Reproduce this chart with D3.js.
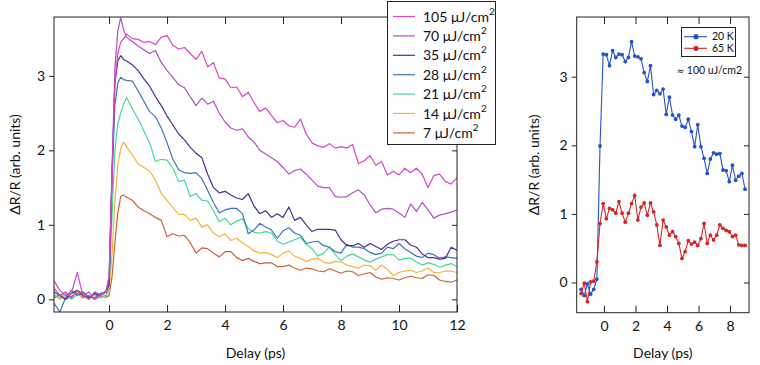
<!DOCTYPE html>
<html><head><meta charset="utf-8">
<script src="https://cdn.jsdelivr.net/npm/d3@7"></script>
<style>
html,body{margin:0;padding:0;background:#fff;}
svg{display:block;font-family:Lato,"Noto Sans",sans-serif;}
</style></head>
<body><svg id="c" width="760" height="365"></svg>
<script>
// ---------- DATA (left panel) ----------
const delays = [-1.9,-1.7,-1.5,-1.3,-1.1,-0.9,-0.7,-0.5,-0.3,-0.1,
 0,0.1,0.2,0.3,0.4,0.5,0.6,
 0.8,1.0,1.2,1.4,1.6,1.8,2.0,2.2,2.4,2.6,2.8,3.0,3.2,3.4,3.6,3.8,4.0,4.2,4.4,4.6,4.8,5.0,
 5.2,5.4,5.6,5.8,6.0,6.2,6.4,6.6,6.8,7.0,7.2,7.4,7.6,7.8,8.0,8.2,8.4,8.6,8.8,9.0,
 9.2,9.4,9.6,9.8,10.0,10.2,10.4,10.6,10.8,11.0,11.2,11.4,11.6,11.8,12.0];
const fluences = ["105","70","35","28","21","14","7"];
const s105 = [0.25,0.12,0.05,0.08,0.36,0.05,0.1,0.0,0.05,0.1,
 0.3,1.6,2.9,3.3,3.45,3.5,3.56,
 3.50,3.49,3.45,3.46,3.42,3.52,3.54,3.41,3.36,3.38,3.30,3.22,3.33,3.12,3.18,2.97,2.96,2.84,2.85,2.72,2.78,2.64,2.52,2.57,2.47,2.37,2.40,2.33,2.31,2.42,2.22,2.10,2.06,2.04,2.09,2.03,2.05,2.03,2.08,1.82,1.86,1.93,1.80,1.85,1.67,1.72,1.67,1.76,1.70,1.76,1.68,1.50,1.66,1.68,1.58,1.55,1.63];
const s70 = [0.15,0.05,0.1,0.02,0.12,0.08,0.0,0.1,0.06,0.12,
 0.3,1.7,3.1,3.6,3.78,3.62,3.52,
 3.46,3.40,3.35,3.30,3.34,3.18,3.07,2.98,2.88,2.84,2.72,2.60,2.70,2.62,2.66,2.50,2.38,2.30,2.27,2.29,2.18,2.11,2.00,1.95,1.90,1.85,1.77,1.68,1.73,1.75,1.68,1.60,1.52,1.50,1.50,1.38,1.37,1.38,1.43,1.47,1.40,1.27,1.16,1.21,1.22,1.21,1.16,1.10,1.28,1.18,1.30,1.20,1.09,1.13,1.15,1.17,1.20];
const s35 = [0.1,0.05,0.0,0.08,0.12,0.05,0.02,0.08,0.05,0.1,
 0.2,1.7,2.9,3.2,3.27,3.22,3.2,
 3.15,3.07,2.96,2.86,2.72,2.60,2.46,2.34,2.22,2.14,2.04,1.96,1.90,1.68,1.50,1.43,1.45,1.40,1.36,1.34,1.42,1.25,1.15,1.19,1.10,1.15,1.10,1.24,1.06,1.10,1.00,0.91,0.94,0.94,0.94,0.93,0.80,0.72,0.72,0.75,0.70,0.75,0.71,0.67,0.74,0.78,0.80,0.80,0.73,0.70,0.61,0.56,0.56,0.54,0.55,0.70,0.66];
const s28 = [-0.05,-0.17,0.02,0.12,0.05,0.1,0.03,0.02,0.08,0.1,
 0.2,1.6,2.6,2.9,2.98,2.95,2.94,
 2.93,2.80,2.66,2.52,2.45,2.30,2.10,1.88,1.74,1.70,1.69,1.70,1.62,1.46,1.30,1.16,1.20,1.22,1.22,1.15,0.88,0.93,1.02,0.97,0.93,0.82,0.92,0.96,0.89,0.86,0.75,0.77,0.78,0.72,0.70,0.64,0.62,0.74,0.70,0.70,0.68,0.63,0.60,0.62,0.70,0.68,0.75,0.68,0.63,0.58,0.56,0.62,0.60,0.55,0.57,0.56,0.55];
const s21 = [0.05,0.02,0.08,0.0,0.06,0.1,0.03,0.07,0.02,0.06,
 0.15,1.1,2.0,2.35,2.5,2.62,2.71,
 2.56,2.42,2.26,2.10,1.85,1.88,1.87,1.76,1.58,1.60,1.38,1.42,1.33,1.32,1.19,1.04,1.09,1.00,1.05,1.08,0.95,0.90,0.89,0.91,0.89,0.78,0.74,0.77,0.80,0.83,0.74,0.68,0.58,0.62,0.70,0.60,0.52,0.58,0.61,0.57,0.53,0.50,0.54,0.57,0.60,0.60,0.53,0.55,0.55,0.50,0.46,0.49,0.47,0.43,0.46,0.48,0.44];
const s14 = [0.08,0.0,0.05,0.02,0.1,0.04,0.0,0.06,0.03,0.05,
 0.1,0.6,1.3,1.8,2.02,2.11,2.05,
 1.94,1.82,1.77,1.72,1.60,1.42,1.33,1.23,1.14,1.14,1.06,1.09,0.97,1.00,0.89,0.84,0.88,0.79,0.82,0.76,0.71,0.65,0.62,0.63,0.60,0.56,0.62,0.65,0.58,0.55,0.51,0.54,0.55,0.50,0.48,0.51,0.50,0.46,0.44,0.42,0.46,0.45,0.39,0.46,0.40,0.32,0.36,0.38,0.39,0.36,0.38,0.42,0.36,0.36,0.38,0.38,0.36];
const s7 = [0.02,0.06,0.0,0.04,0.08,0.02,0.05,0.0,0.04,0.03,
 0.05,0.3,0.75,1.15,1.38,1.40,1.37,
 1.33,1.24,1.19,1.15,1.10,1.06,0.84,0.88,0.85,0.86,0.76,0.62,0.69,0.68,0.62,0.57,0.64,0.64,0.56,0.52,0.55,0.51,0.48,0.49,0.49,0.44,0.44,0.46,0.42,0.39,0.42,0.41,0.38,0.37,0.41,0.38,0.35,0.38,0.37,0.32,0.34,0.36,0.30,0.27,0.29,0.28,0.26,0.29,0.31,0.29,0.28,0.33,0.32,0.26,0.24,0.23,0.26];
const leftTicksX = [0,2,4,6,8,10,12];
const leftTicksY = [0,1,2,3];

// ---------- DATA (right panel) ----------
const delays2 = [-1.45,-1.25,-1.05,-0.85,-0.65,-0.45,-0.25,-0.05,0.15,0.35,0.55,0.75,0.95,1.15,1.35,1.55,1.75,1.95,2.15,2.35,2.55,2.75,2.95,3.15,3.35,3.55,3.75,3.95,4.15,4.35,4.55,4.75,4.95,5.15,5.35,5.55,5.75,5.95,6.15,6.35,6.55,6.75,6.95,7.15,7.35,7.55,7.75,7.95,8.15,8.35,8.55,8.75,8.95];
const temps = ["20 K","65 K"];
const k20 = [-0.10,-0.19,-0.02,-0.17,-0.10,0.05,
 1.99,3.33,3.32,3.16,3.38,3.28,3.33,3.32,3.22,3.28,3.51,3.30,3.29,3.26,3.06,2.93,3.16,2.74,2.80,2.75,2.82,2.45,2.70,2.44,2.38,2.44,2.28,2.26,2.38,2.20,1.98,2.30,1.98,1.81,1.59,1.80,1.89,1.87,1.88,1.64,1.63,1.47,1.71,1.49,1.55,1.59,1.36];
const k65 = [-0.16,-0.01,-0.28,0.01,0.02,0.30,
 0.86,1.15,0.93,1.08,1.06,1.01,1.18,1.01,0.88,1.01,1.15,1.27,0.91,1.10,1.16,0.98,1.16,1.03,0.84,0.54,0.91,0.81,0.69,0.74,0.67,0.57,0.35,0.45,0.61,0.56,0.59,0.54,0.64,0.86,0.57,0.69,0.62,0.69,0.84,0.79,0.76,0.74,0.67,0.69,0.55,0.54,0.54];
const rightTicksX = [0,2,4,6,8];
const rightTicksY = [0,1,2,3];

// ---------- DRAW ----------
const svg = d3.select("#c");
const FS = 14;
const colors = ["#d646c4","#b04ec2","#4a2c94","#3b76b4","#45d69c","#f3b43a","#c4643c"];
const seriesL = [s105,s70,s35,s28,s21,s14,s7];

function frameAxes(g, x, y, X0, X1, Y0, Y1, tx, ty){
  g.append("g").attr("transform",`translate(0,${Y1})`)
    .call(d3.axisBottom(x).tickValues(tx).tickSizeInner(-7).tickSizeOuter(0).tickPadding(8).tickFormat(d3.format("d")));
  g.append("g").attr("transform",`translate(0,${Y0})`)
    .call(d3.axisTop(x).tickValues(tx).tickSizeInner(-7).tickSizeOuter(0).tickFormat(""));
  g.append("g").attr("transform",`translate(${X0},0)`)
    .call(d3.axisLeft(y).tickValues(ty).tickSizeInner(5).tickSizeOuter(0).tickPadding(4).tickFormat(d3.format("d")));
  g.append("g").attr("transform",`translate(${X1},0)`)
    .call(d3.axisRight(y).tickValues(ty).tickSizeInner(-5).tickSizeOuter(0).tickFormat(""));
  g.selectAll(".domain").remove();
  g.selectAll(".tick line").attr("stroke","#222").attr("stroke-width",1);
  g.selectAll(".tick text").attr("font-size",FS).attr("font-family","Lato,'Noto Sans',sans-serif").attr("fill","#111");
  g.append("rect").attr("x",X0).attr("y",Y0).attr("width",X1-X0).attr("height",Y1-Y0)
    .attr("fill","none").attr("stroke","#222").attr("stroke-width",1);
}

// Left panel
const LX0=54, LX1=457, LY0=17, LY1=312;
const xL = d3.scaleLinear().domain([-1.9,12]).range([LX0,LX1]);
const yL = d3.scaleLinear().domain([-0.17,3.79]).range([LY1,LY0]);
svg.append("clipPath").attr("id","clipL").append("rect").attr("x",LX0).attr("y",LY0).attr("width",LX1-LX0).attr("height",LY1-LY0);
const gL = svg.append("g");
const lineL = d3.line().x((d,i)=>xL(delays[i])).y(d=>yL(d));
const curves = gL.append("g").attr("clip-path","url(#clipL)");
for (let k=seriesL.length-1;k>=0;k--){
  curves.append("path").attr("d",lineL(seriesL[k])).attr("fill","none")
    .attr("stroke",colors[k]).attr("stroke-width",1.2).attr("stroke-linejoin","round");
}
frameAxes(gL,xL,yL,LX0,LX1,LY0,LY1,leftTicksX,leftTicksY);
svg.append("text").attr("x",(LX0+LX1)/2).attr("y",358).attr("text-anchor","middle")
  .attr("font-size",FS).attr("fill","#111").text("Delay (ps)");
svg.append("text").attr("transform",`translate(20,${(LY0+LY1)/2}) rotate(-90)`).attr("text-anchor","middle")
  .attr("font-size",FS).attr("fill","#111").text("ΔR/R (arb. units)");

// Left legend
const lg = svg.append("g");
lg.append("rect").attr("x",387.5).attr("y",1.5).attr("width",108).attr("height",143)
  .attr("fill","#fff").attr("stroke","#222").attr("stroke-width",1);
fluences.forEach((f,i)=>{
  const yy = 16.5 + i*19.4;
  lg.append("line").attr("x1",393).attr("x2",415).attr("y1",yy).attr("y2",yy)
    .attr("stroke",colors[i]).attr("stroke-width",1.2);
  const t = lg.append("text").attr("x",423).attr("y",yy+5).attr("font-size",FS).attr("fill","#111");
  t.append("tspan").text(f+" μJ/cm");
  t.append("tspan").attr("dy",-7).attr("font-size",10).text("2");
});

// Right panel
const RX0=576.7, RX1=749, RY0=17, RY1=312.7;
const xR = d3.scaleLinear().domain([-1.73,9.2]).range([RX0,RX1]);
const yR = d3.scaleLinear().domain([-0.44,3.87]).range([RY1,RY0]);
const gR = svg.append("g");
const lineR = d3.line().x((d,i)=>xR(delays2[i])).y(d=>yR(d));
const rColors = ["#2353c4","#d4262a"];
[k20,k65].forEach((s,k)=>{
  gR.append("path").attr("d",lineR(s)).attr("fill","none").attr("stroke",rColors[k]).attr("stroke-width",1.1);
  gR.append("g").selectAll("circle").data(s).join("circle")
    .attr("cx",(d,i)=>xR(delays2[i])).attr("cy",d=>yR(d)).attr("r",1.9).attr("fill",rColors[k]);
});
frameAxes(gR,xR,yR,RX0,RX1,RY0,RY1,rightTicksX,rightTicksY);
svg.append("text").attr("x",(RX0+RX1)/2).attr("y",358).attr("text-anchor","middle")
  .attr("font-size",FS).attr("fill","#111").text("Delay (ps)");
svg.append("text").attr("transform",`translate(539,${(RY0+RY1)/2}) rotate(-90)`).attr("text-anchor","middle")
  .attr("font-size",FS).attr("fill","#111").text("ΔR/R (arb. units)");

// Right legend
const rg = svg.append("g");
rg.append("rect").attr("x",681.5).attr("y",27.5).attr("width",54).attr("height",29)
  .attr("fill","#fff").attr("stroke","#222").attr("stroke-width",1);
temps.forEach((t,i)=>{
  const yy = 36.7 + i*11.6;
  rg.append("line").attr("x1",684).attr("x2",707).attr("y1",yy).attr("y2",yy).attr("stroke",rColors[i]).attr("stroke-width",1.1);
  rg.append("circle").attr("cx",696).attr("cy",yy).attr("r",2.6).attr("fill",rColors[i]);
  rg.append("text").attr("x",712).attr("y",yy+3.7).attr("font-size",10.5).attr("fill","#111").text(t);
});
const note = svg.append("text").attr("x",742).attr("y",74).attr("text-anchor","end").attr("font-size",10.5).attr("fill","#111");
note.append("tspan").attr("font-family","'DejaVu Sans'").attr("font-size",9).text("≈");
note.append("tspan").text(" 100 uJ/cm2");
</script>
</body></html>
